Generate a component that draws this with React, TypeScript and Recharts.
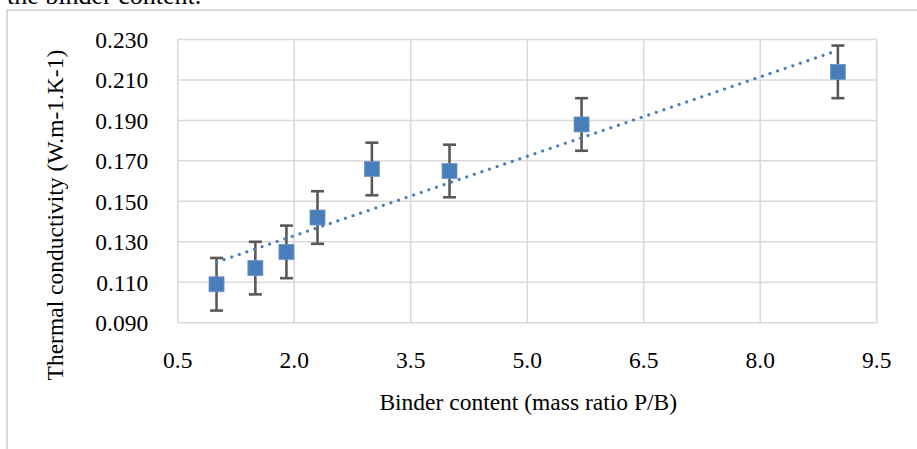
import React from 'react';
import { ScatterChart, Scatter, XAxis, YAxis, CartesianGrid, ErrorBar } from 'recharts';

// ---- data ----
const binderContent = [1.0, 1.5, 1.9, 2.3, 3.0, 4.0, 5.7, 9.0];
const conductivity = [0.109, 0.117, 0.125, 0.142, 0.166, 0.165, 0.188, 0.214];
const errorValues = [0.013, 0.013, 0.013, 0.013, 0.013, 0.013, 0.013, 0.013];
const trendX = [1.0, 9.0];
const trendY = [0.1199, 0.2246];
const xTicks = [0.5, 2.0, 3.5, 5.0, 6.5, 8.0, 9.5];
const yTicks = [0.09, 0.11, 0.13, 0.15, 0.17, 0.19, 0.21, 0.23];
const xTitle = 'Binder content (mass ratio P/B)';
const yTitle = 'Thermal conductivity (W.m-1.K-1)';
const captionText = 'the binder content.';

const data = binderContent.map((x, i) => ({ x, y: conductivity[i], err: errorValues[i] }));
const trend = trendX.map((x, i) => ({ x, y: trendY[i] }));

const FONT = '"Liberation Serif", "Times New Roman", serif';
const BLUE = '#4a7ebb';
const FS = 23.5;

const XTick = (props: any) => {
  const { x, y, payload } = props;
  return (
    <text x={x} y={y + 45.5} textAnchor="middle" fontSize={FS} fontFamily={FONT} fill="#000">
      {Number(payload.value).toFixed(1)}
    </text>
  );
};

const YTick = (props: any) => {
  const { x, y, payload } = props;
  return (
    <text x={x} y={y + 8.5} textAnchor="end" fontSize={FS} fontFamily={FONT} fill="#000">
      {Number(payload.value).toFixed(3)}
    </text>
  );
};

const XLabel = (props: any) => {
  const vb = props.viewBox || {};
  return (
    <text x={vb.x + vb.width / 2 + 1} y={vb.y + 87.5} textAnchor="middle" fontSize={FS} fontFamily={FONT} fill="#000">
      {xTitle}
    </text>
  );
};

const YLabel = (props: any) => {
  const vb = props.viewBox || {};
  const cx = vb.x - 15;
  const cy = vb.y + vb.height / 2 + 34;
  return (
    <text
      x={cx}
      y={cy}
      textAnchor="middle"
      fontSize={FS}
      fontFamily={FONT}
      fill="#000"
      transform={`rotate(-90, ${cx}, ${cy})`}
    >
      {yTitle}
    </text>
  );
};

const Square = (props: any) => {
  const { cx, cy } = props;
  if (cx == null || cy == null) return <g />;
  return <rect x={cx - 7.5} y={cy - 7.5} width={15} height={15} fill={BLUE} stroke="#6d96c9" strokeWidth={0.8} />;
};

const NoShape = () => <g />;

export default function App() {
  return (
    <div style={{ position: 'absolute', left: 0, top: 0, width: 917, height: 449, background: '#fff', overflow: 'hidden' }}>
      <svg width={917} height={30} style={{ position: 'absolute', left: 0, top: 0 }}>
        <text x={7} y={4} fontSize={26} fontFamily={FONT} fill="#000">{captionText}</text>
      </svg>
      <div
        style={{
          position: 'absolute',
          left: 6,
          top: 8.5,
          width: 960,
          height: 480,
          border: '2px solid #d9d9d9',
          boxSizing: 'border-box',
        }}
      />
      <div style={{ position: 'absolute', left: 0, top: 0 }}>
        <ScatterChart width={917} height={449} margin={{ top: 39.5, right: 40.3, bottom: 86.3, left: 77.7 }}>
          <CartesianGrid stroke="#d9d9d9" strokeWidth={1.5} />
          <XAxis
            type="number"
            dataKey="x"
            domain={[0.5, 9.5]}
            ticks={xTicks}
            axisLine={false}
            tickLine={false}
            tickSize={0}
            tickMargin={0}
            height={40}
            tick={XTick}
            interval={0}
            allowDataOverflow
            label={{ content: XLabel }}
          />
          <YAxis
            type="number"
            dataKey="y"
            domain={[0.09, 0.23]}
            ticks={yTicks}
            axisLine={false}
            tickLine={false}
            tickSize={0}
            tickMargin={29.5}
            width={100}
            tick={YTick}
            interval={0}
            allowDataOverflow
            label={{ content: YLabel }}
          />
          <Scatter data={data} shape={Square} isAnimationActive={false}>
            <ErrorBar dataKey="err" direction="y" width={6.5} stroke="#595959" strokeWidth={2.6} isAnimationActive={false} />
          </Scatter>
          <Scatter
            data={trend}
            shape={NoShape}
            line={{ stroke: BLUE, strokeWidth: 3.2, strokeDasharray: '0.01 8', strokeLinecap: 'round' }}
            isAnimationActive={false}
          />
        </ScatterChart>
      </div>
    </div>
  );
}
